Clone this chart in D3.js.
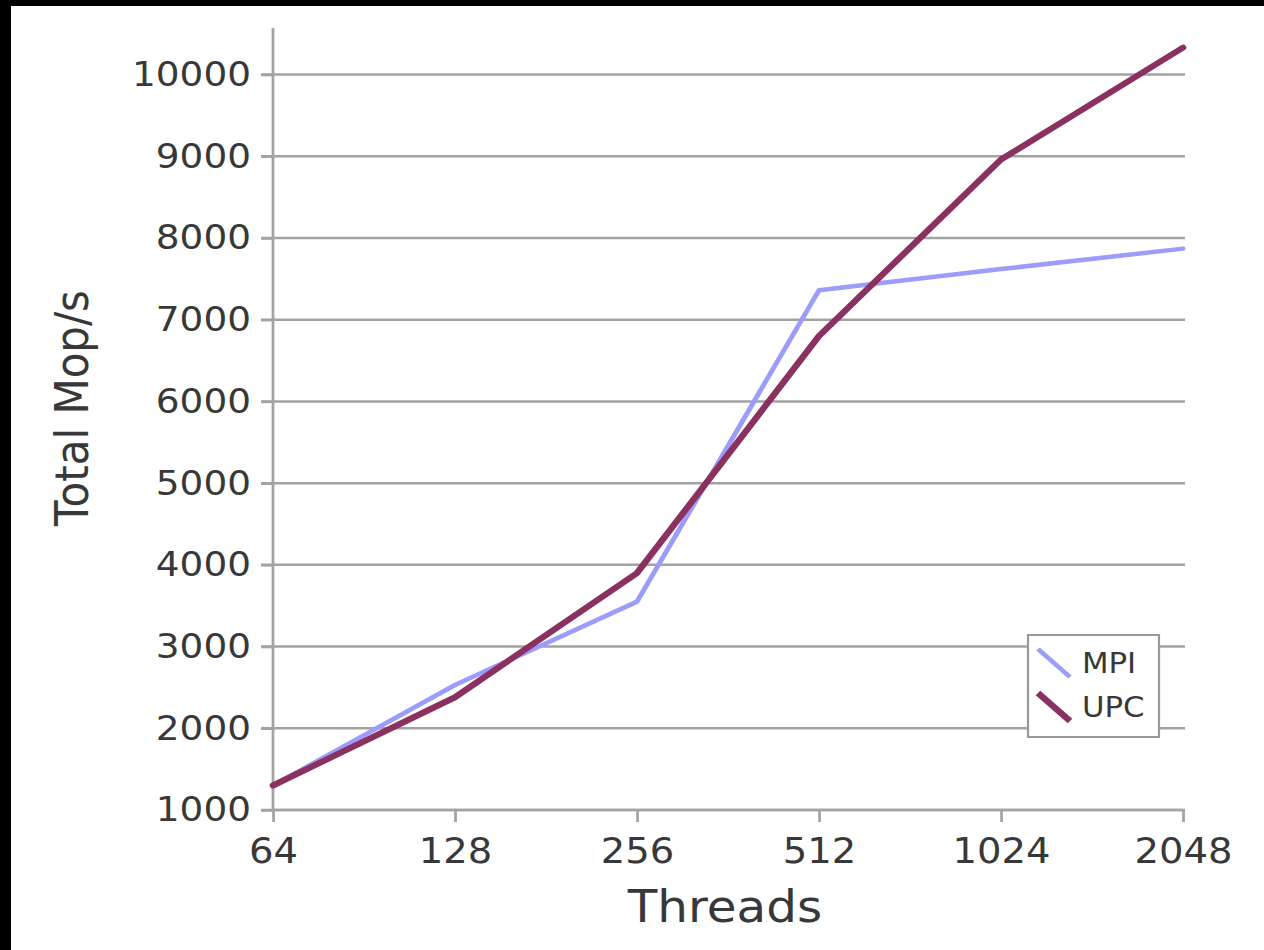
<!DOCTYPE html>
<html>
<head>
<meta charset="utf-8">
<script src="https://cdn.jsdelivr.net/npm/d3@7"></script>
<style>
    html, body { margin: 0; padding: 0; background: #000; }
    #chart { width: 1264px; height: 950px; }
    text { font-family: "DejaVu Sans", Verdana, sans-serif; fill: #383838; }
</style>
</head>
<body>
<div id="chart"></div>
<script>
// Data
const threads = ["64", "128", "256", "512", "1024", "2048"];
const mpiValues = [1300, 2530, 3550, 7360, 7620, 7870];
const upcValues = [1300, 2380, 3900, 6800, 8960, 10330];
const yTicks = [1000, 2000, 3000, 4000, 5000, 6000, 7000, 8000, 9000, 10000];
const seriesNames = ["MPI", "UPC"];

const width = 1264;
const height = 950;
// the original picture is a little stretched sideways
const SX = 1.1;
const px = v => v / SX;

const svg = d3.select("#chart")
    .append("svg")
    .attr("width", width)
    .attr("height", height)
    .attr("viewBox", `0 0 ${width / SX} ${height}`)
    .attr("preserveAspectRatio", "none");

// white slide area, black frame on top and left
svg.append("rect")
    .attr("x", 0).attr("y", 0)
    .attr("width", width / SX).attr("height", height)
    .attr("fill", "#000");
svg.append("rect")
    .attr("x", px(11)).attr("y", 6)
    .attr("width", width / SX).attr("height", height)
    .attr("fill", "#fff");

// Scales
const xScale = d3.scalePoint()
    .domain(threads)
    .range([px(273), px(1183)]);

const yScale = d3.scaleLinear()
    .domain([1000, 10570])
    .range([810, 28]);

const colors = { MPI: "#9c9cfa", UPC: "#8a3160" };
const gridColor = "#a3a3a3";
const textColor = "#383838";

/* Grid lines */
svg.append("g")
    .selectAll("line")
    .data(yTicks)
    .join("line")
    .attr("x1", px(261))
    .attr("x2", px(1185))
    .attr("y1", d => yScale(d))
    .attr("y2", d => yScale(d))
    .attr("stroke", gridColor)
    .attr("stroke-width", 2.5);

/* Axes */
const leftAxis = d3.axisLeft(yScale)
    .tickValues(yTicks)
    .tickFormat(d3.format("d"))
    .tickSize(px(12))
    .tickPadding(px(10));
const yAxisGroup = svg.append("g")
    .attr("transform", `translate(${px(273)},0)`)
    .call(leftAxis);
yAxisGroup.select(".domain").remove();
yAxisGroup.append("line")
    .attr("x1", 0).attr("x2", 0)
    .attr("y1", yScale.range()[1])
    .attr("y2", yScale.range()[0])
    .attr("stroke", gridColor)
    .attr("stroke-width", 2.5);
yAxisGroup.selectAll(".tick line").attr("stroke", gridColor).attr("stroke-width", 2.5);
yAxisGroup.selectAll(".tick text")
    .attr("font-size", 34)
    .attr("font-family", "DejaVu Sans")
    .attr("fill", textColor);

const bottomAxis = d3.axisBottom(xScale)
    .tickSize(12)
    .tickPadding(16);
const xAxisGroup = svg.append("g")
    .attr("transform", `translate(0,810)`)
    .call(bottomAxis);
xAxisGroup.select(".domain").remove();
xAxisGroup.append("line")
    .attr("x1", xScale.range()[0]).attr("x2", xScale.range()[1])
    .attr("y1", 0).attr("y2", 0)
    .attr("stroke", gridColor)
    .attr("stroke-width", 2.5);
xAxisGroup.selectAll(".tick line").attr("stroke", gridColor).attr("stroke-width", 2.5);
xAxisGroup.selectAll(".tick text")
    .attr("font-size", 35)
    .attr("font-family", "DejaVu Sans")
    .attr("fill", textColor);

// Axis labels
svg.append("text")
    .text("Threads")
    .attr("text-anchor", "middle")
    .attr("x", px(725))
    .attr("y", 922)
    .attr("font-size", 44);

svg.append("text")
    .text("Total Mop/s")
    .attr("text-anchor", "middle")
    .attr("transform", `translate(${px(88)},408) rotate(-90)`)
    .attr("font-size", 42);

/* Lines */
const series = [
    { name: "MPI", values: mpiValues, width: 4.5 },
    { name: "UPC", values: upcValues, width: 6 }
];

const line = d3.line()
    .x((d, i) => xScale(threads[i]))
    .y(d => yScale(d));

svg.append("g")
    .selectAll("path")
    .data(series)
    .join("path")
    .attr("d", d => line(d.values))
    .attr("fill", "none")
    .attr("stroke", d => colors[d.name])
    .attr("stroke-width", d => d.width)
    .attr("stroke-linejoin", "round")
    .attr("stroke-linecap", "round");

/* Legend */
const legend = svg.append("g")
    .attr("transform", `translate(${px(1028)},635)`);

legend.append("rect")
    .attr("width", px(131))
    .attr("height", 102)
    .attr("fill", "#fff")
    .attr("stroke", "#999")
    .attr("stroke-width", 2);

seriesNames.forEach((name, i) => {
    const g = legend.append("g").attr("transform", `translate(0, ${i * 44})`);
    g.append("line")
        .attr("x1", px(10)).attr("y1", 14)
        .attr("x2", px(42)).attr("y2", 42)
        .attr("stroke", colors[name])
        .attr("stroke-width", series[i].width);
    g.append("text")
        .attr("x", px(54))
        .attr("y", 38)
        .attr("font-size", 28)
        .text(name);
});
</script>
</body>
</html>
